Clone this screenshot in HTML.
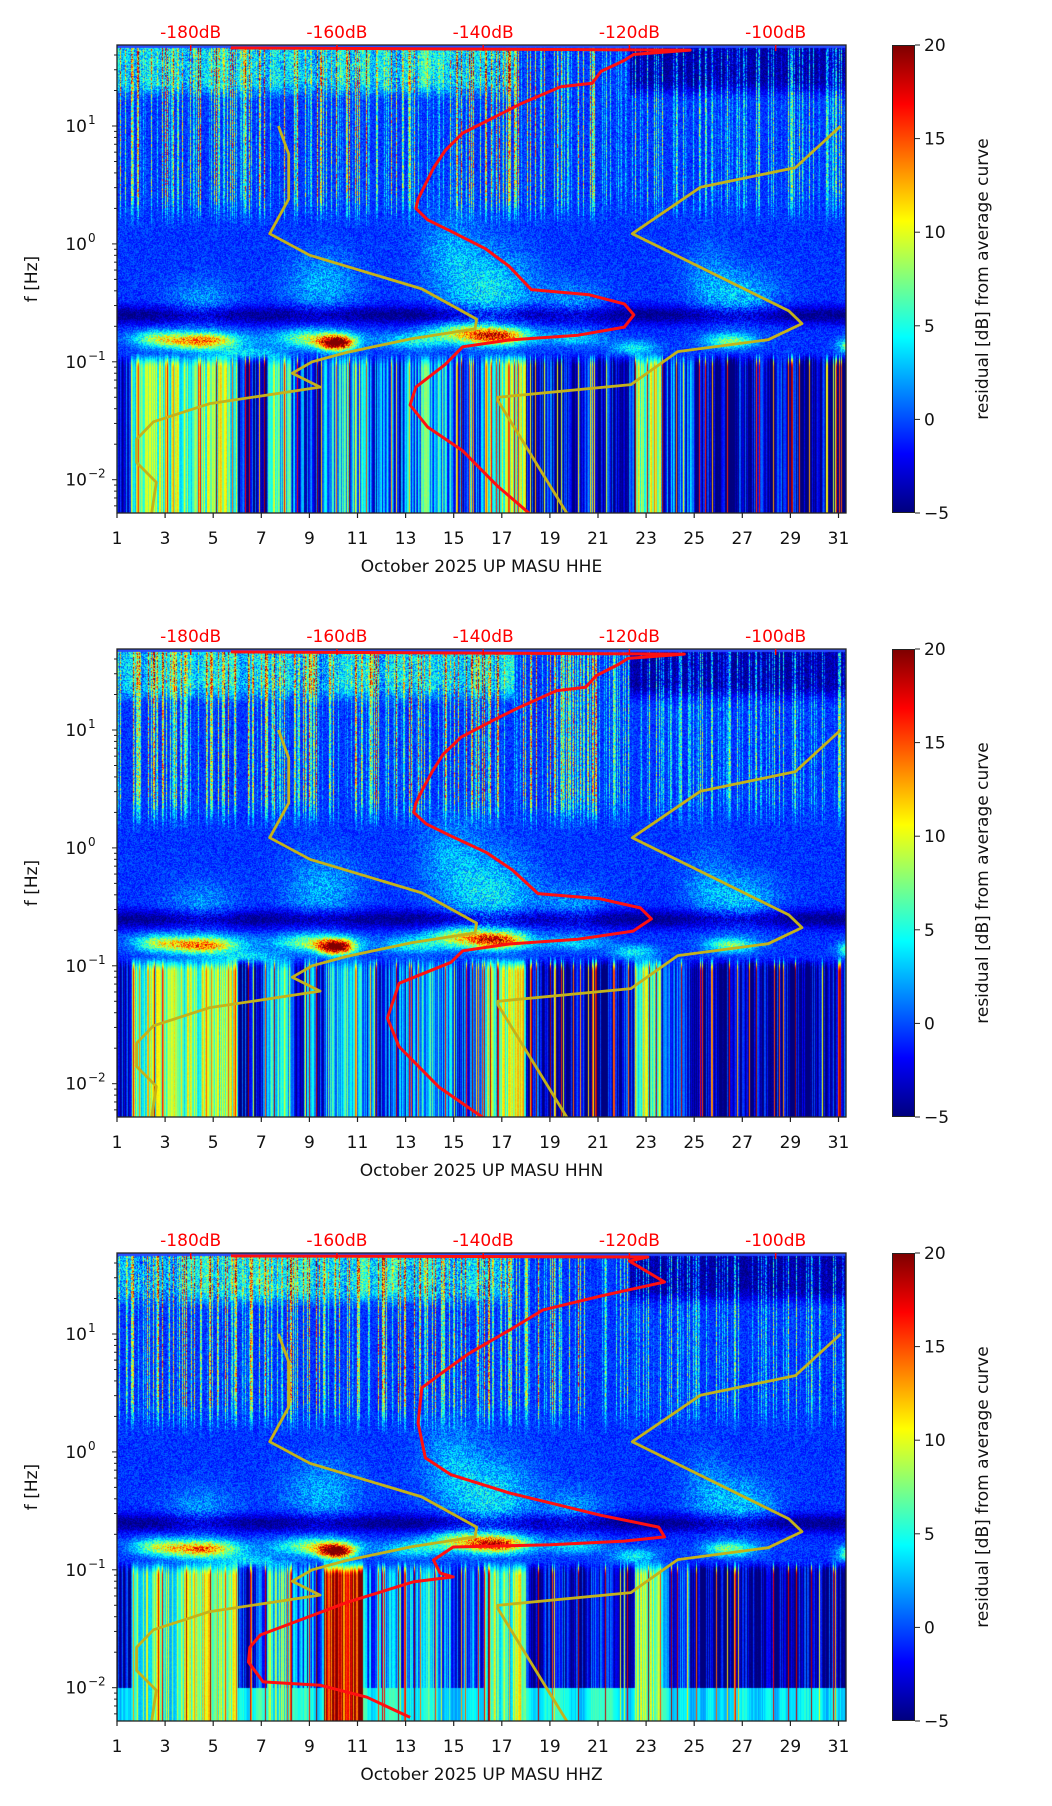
<!DOCTYPE html>
<html><head><meta charset="utf-8">
<style>
html,body{margin:0;padding:0;background:#fff;}
#wrap{position:relative;width:1052px;height:1806px;overflow:hidden;font-family:"DejaVu Sans","Liberation Sans",sans-serif;}
canvas{position:absolute;}
svg{position:absolute;left:0;top:0;}
.cb{position:absolute;left:892px;width:23px;height:468px;border:1px solid #222;box-sizing:border-box;
background:linear-gradient(to top,#00007f 0%,#0000ff 12.5%,#00ffff 37.5%,#ffff00 62.5%,#ff0000 87.5%,#7f0000 100%);}
</style></head>
<body>
<div id="wrap">
<canvas id="c0" width="729" height="468" style="left:117px;top:45px"></canvas>
<canvas id="c1" width="729" height="468" style="left:117px;top:649px"></canvas>
<canvas id="c2" width="729" height="468" style="left:117px;top:1253px"></canvas>
<div class="cb" style="top:45px"></div>
<div class="cb" style="top:649px"></div>
<div class="cb" style="top:1253px"></div>
<svg id="ov" width="1052" height="1806"></svg>
</div>
<script>
// ---- data ----
const panelTitles = ["October 2025 UP MASU  HHE","October 2025 UP MASU  HHN","October 2025 UP MASU  HHZ"];
const dayTicks = [1,3,5,7,9,11,13,15,17,19,21,23,25,27,29,31];
const dbTicks = [-180,-160,-140,-120,-100];
const freqTicksExp = [-2,-1,0,1];
const cbTicks = [-5,0,5,10,15,20];
const redDbE = [-174.5,-111.7,-119.4,-120.7,-123.9,-125.1,-129.4,-134.9,-138.1,-142.8,-145.2,-146.8,-147.9,-148.9,-149.2,-147.6,-144.4,-139.7,-136.5,-133.4,-125.5,-120.7,-119.4,-120.7,-127,-136.5,-142.8,-145.2,-149.2,-150,-147.6,-142.8,-138.1,-133.4];
const redHzE = [46,44,40.5,36,29,23,21.5,15.4,12.2,8.7,6.2,4.4,3.2,2.4,2.0,1.6,1.28,0.91,0.65,0.41,0.37,0.31,0.25,0.197,0.168,0.153,0.134,0.095,0.061,0.043,0.028,0.0176,0.0089,0.005];
const redDbN = [-174.5,-112.5,-120.2,-121.5,-124.5,-126,-130,-135.2,-138.5,-143,-145.5,-147,-148.2,-149.2,-149.5,-147.8,-144.6,-139.5,-136,-132.5,-124,-118.5,-117,-119.5,-127,-136.5,-142.8,-144.4,-151.5,-153.1,-151.5,-146,-139.7];
const redHzN = [46,44,40.5,36,29,23,21.5,15.4,12.2,8.7,6.2,4.4,3.2,2.4,2.0,1.6,1.28,0.91,0.65,0.41,0.37,0.31,0.25,0.197,0.168,0.153,0.134,0.107,0.071,0.036,0.0206,0.0093,0.005];
const redDbZ = [-174.5,-117.5,-120,-115.2,-123.9,-131.8,-136.5,-142,-145.2,-148.4,-148.9,-147.9,-144.4,-136.5,-123.9,-116,-115.2,-120.7,-130.8,-144.1,-146.8,-145.9,-144.1,-149.6,-158.6,-170.5,-171.9,-172.1,-170.1,-162.3,-155.9,-150];
const redHzZ = [46,45,41.5,27.6,21,16,10.7,6.8,4.9,3.5,1.76,0.89,0.64,0.45,0.29,0.23,0.19,0.175,0.163,0.156,0.121,0.094,0.087,0.079,0.053,0.028,0.022,0.0165,0.0112,0.0105,0.0083,0.0056];
const lowDb = [-168.0,-166.6,-166.6,-169.2,-163.7,-148.4,-140.9,-141.1,-149.8,-158.7,-163.4,-166.1,-162.3,-177.5,-185.1,-187.4,-187.4,-184.7,-185.4];
const lowHz = [10,5.8,2.4,1.22,0.80,0.415,0.23,0.19,0.157,0.12,0.1,0.08,0.061,0.044,0.031,0.022,0.014,0.0095,0.0049];
const highDb = [-91.1,-97.3,-110.3,-119.6,-98.2,-96.4,-101.0,-113.4,-119.8,-138.0,-138.0,-128.3];
const highHz = [10,4.44,3.02,1.22,0.27,0.211,0.154,0.122,0.064,0.05,0.047,0.0049];

const redDb=[redDbE,redDbN,redDbZ], redHz=[redHzE,redHzN,redHzZ];
const tops=[45,649,1253];
const L=117,R=846,H=468,LFT=1.687,DEC=117.9;
function xDay(d){return L+(d-1)*24.05;}
function xDb(db){return 190.7+(db+180)*7.312;}
function yHz(f,top){return top+(LFT-Math.log10(f))*DEC;}

// ---- spectrogram texture ----
function hsh(i){const s=Math.sin(i*12.9898+78.233)*43758.5453;return s-Math.floor(s);}
function sm(a,b,x){let t=(x-a)/(b-a);t=Math.max(0,Math.min(1,t));return t*t*(3-2*t);}
function jet(t){t=Math.max(0,Math.min(1,t));const c=v=>Math.max(0,Math.min(1,v));
 return [c(1.5-Math.abs(4*t-3))*255,c(1.5-Math.abs(4*t-2))*255,c(1.5-Math.abs(4*t-1))*255];}
const blobs=[[4.5,-0.82,15,1.5,0.07],[10.1,-0.84,22,0.7,0.06],[9.2,-0.8,9,1.6,0.07],[2.6,-0.8,7,1.0,0.07],[16.8,-0.78,16,1.2,0.07],[15.2,-0.75,8,1.3,0.08],[13.3,-0.82,5,1.3,0.07],[26.5,-0.82,8,1.0,0.06],[22.5,-0.88,5,0.9,0.06],[31.5,-0.86,9,0.5,0.06],[20,-0.8,4,1.3,0.06],[6.5,-0.92,4,1.5,0.05]];
const plumes=[[9.5,-0.35,3,1.5,0.28],[16.5,-0.4,4.5,1.8,0.35],[14.8,-0.05,2.5,1.2,0.3],[27,-0.45,3.5,1.4,0.22],[20,-0.5,2.5,1.3,0.18],[4.5,-0.5,2.5,1.4,0.2],[25.5,-0.3,2,1.0,0.3]];
function lowCol(d,p){
 if(d<1.6)return -3; if(d<6)return 7; if(d<7.2)return -3.5; if(d<8.2)return 5;
 if(d<9.6)return -0.5; if(d<11.2)return p==2?17:3; if(d<13)return 0; if(d<15)return 2;
 if(d<16.3)return -0.5; if(d<18)return 7; if(d<22.5)return -4; if(d<23.6)return 7;
 if(d<25)return -1; return -4.5;}
function render(p){
 const cv=document.getElementById('c'+p),ctx=cv.getContext('2d');
 const img=ctx.createImageData(729,468),D=img.data;
 const st=[],cj=[],cs=[];
 for(let x=0;x<729;x++){st.push(hsh(x*3.1+p*917));cj.push(hsh(x*7.7+p*331+5));}
 for(let x=0;x<729;x++){let s=0;for(let k=-4;k<=4;k++)s+=cj[Math.max(0,Math.min(728,x+k))];cs.push(s/9);}
 for(let y=0;y<468;y++){
  const lf=LFT-y/DEC;
  const wH=sm(0.1,0.5,lf), wT=sm(1.2,1.4,lf), wL=sm(-0.9,-1.05,lf);
  const dq=(lf+0.6)/0.08;
  const dark=4*Math.exp(-(dq*dq));
  for(let x=0;x<729;x++){
   const d=1+x/24.05,n=hsh(x*1.37+y*7.91+p*101);
   let v=-2+2.8*n;
   if(st[x]>0.62){v+=wH*(st[x]-0.62)/0.38*15*(d<21?1:0.6)*(0.5+0.7*n);}
   if(wT>0){v+=wT*(d<17.5?(cs[x]*10-3+4*n):(d>22.3?-3.5:0));}
   for(const b of plumes){const a1=(d-b[0])/b[3],a2=(lf-b[1])/b[4];const e=a1*a1+a2*a2;if(e<6)v+=b[2]*Math.exp(-e)*(0.6+0.8*n);}
   v-=dark;
   if(wL>0){
    let lv=lowCol(d,p)+(cj[x]-0.5)*9+(cs[x]-0.5)*5+n*0.8;
    if(st[x]>0.91) lv=Math.max(lv,9+(st[x]-0.91)*120);
    if(p==2 && lf<-2.0) lv=Math.max(lv,-1+8*cs[x]+2*cj[x]);
    v=(1-wL)*v+wL*lv;
   }
   for(const b of blobs){const a1=(d-b[0])/b[3],a2=(lf-b[1])/b[4];const e=a1*a1+a2*a2;if(e<8)v+=b[2]*Math.exp(-e)*(0.8+0.4*n);}
   const c=jet((v+5)/25),i=(y*729+x)*4;
   D[i]=c[0];D[i+1]=c[1];D[i+2]=c[2];D[i+3]=255;
  }
 }
 ctx.putImageData(img,0,0);
 ctx.fillStyle='#2a4cff';ctx.fillRect(0,0,729,3);
}
[0,1,2].forEach(render);

// ---- overlay ----
const NS='http://www.w3.org/2000/svg',ov=document.getElementById('ov');
function el(tag,attrs,parent){const e=document.createElementNS(NS,tag);for(const k in attrs)e.setAttribute(k,attrs[k]);(parent||ov).appendChild(e);return e;}
function txt(s,attrs,parent){const e=el('text',attrs,parent);e.textContent=s;return e;}
tops.forEach((top,p)=>{
 const g=el('g',{});
 
 
 const cp=el('clipPath',{id:'cl'+p},g);el('rect',{x:L,y:top-2,width:R-L,height:H+2},cp);
 const cg=el('g',{'clip-path':'url(#cl'+p+')'},g);
 const lineC=(xs,ys,col,w,name)=>{
  const pts=xs.map((v,i)=>xDb(v).toFixed(1)+','+yHz(ys[i],top).toFixed(1)).join(' ');
  const pl=el('polyline',{points:pts,fill:'none',stroke:col,'stroke-width':w,'stroke-linejoin':'round'},cg);
  
  
 };
 lineC(lowDb,lowHz,'#c4b21a',2.8,'low-noise-model-line');
 lineC(highDb,highHz,'#c4b21a',2.8,'high-noise-model-line');
 lineC(redDb[p],redHz[p],'#ff1010',3,'median-psd-line');
 const fr=el('rect',{x:L,y:top,width:R-L,height:H,fill:'none',stroke:'#222','stroke-width':1.3},g);
 
 
 dbTicks.forEach(db=>{
  const x=xDb(db);
  el('line',{x1:x,x2:x,y1:top,y2:top+6,stroke:'#f00','stroke-width':1.5},g);
  const t=txt(db+'dB',{x:x,y:top-7,'text-anchor':'middle','font-size':17,fill:'#f00'},g);
  
  
 });
 dayTicks.forEach(d=>{
  const x=xDay(d);
  el('line',{x1:x,x2:x,y1:top+H,y2:top+H+5,stroke:'#222','stroke-width':1.2},g);
  const t=txt(String(d),{x:x,y:top+H+31,'text-anchor':'middle','font-size':17,fill:'#111'},g);
  
  
 });
 const xt=txt(panelTitles[p],{x:(L+R)/2,y:top+H+59,'text-anchor':'middle','font-size':17,fill:'#111'},g);
 
 
 for(let e=-3;e<=1;e++){for(let m=1;m<10;m++){
  const f=m*Math.pow(10,e),y=yHz(f,top);
  if(y<top-0.5||y>top+H+0.5)continue;
  el('line',{x1:L,x2:L-(m==1?5:3),y1:y,y2:y,stroke:'#222','stroke-width':1},g);
 }}
 freqTicksExp.forEach(e=>{
  const y=yHz(Math.pow(10,e),top);
  const t=txt('10',{x:L-30,y:y+6,'text-anchor':'end','font-size':17,fill:'#111'},g);
  
  
  txt(e<0?'\u2212'+(-e):String(e),{x:L-29,y:y-2,'text-anchor':'start','font-size':12,fill:'#111'},g);
 });
 const yt=txt('f [Hz]',{x:37,y:top+H/2,'text-anchor':'middle','font-size':17,fill:'#111',transform:'rotate(-90 37 '+(top+H/2)+')'},g);
 
 
 cbTicks.forEach(v=>{
  const y=top+H-(v+5)/25*H;
  el('line',{x1:915,x2:920,y1:y,y2:y,stroke:'#222','stroke-width':1},g);
  const t=txt(v<0?'\u2212'+(-v):String(v),{x:924,y:y+6,'font-size':17,fill:'#111'},g);
  
  
 });
 const cl=txt('residual [dB] from average curve',{x:988,y:top+H/2,'text-anchor':'middle','font-size':17,fill:'#111',transform:'rotate(-90 988 '+(top+H/2)+')'},g);
 
 
});
</script>
</body></html>
